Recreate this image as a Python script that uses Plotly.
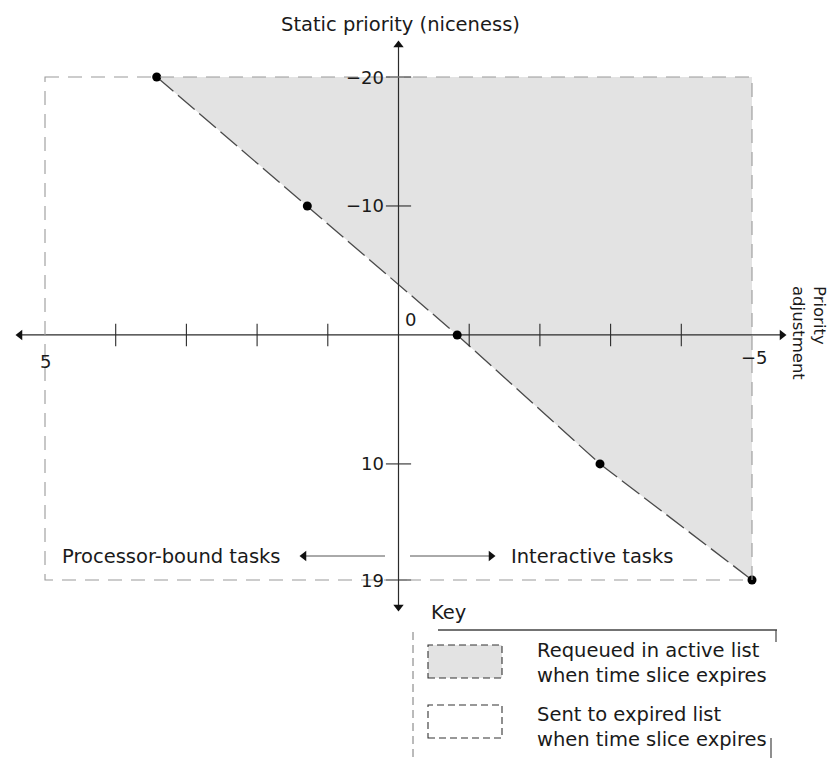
import plotly.graph_objects as go

# ---------------- data ----------------
static_priority = [-20, -10, 0, 10, 19]
priority_adjustment = [3.42, 1.29, -0.83, -2.85, -5.0]
x_extent = [5, -5]
y_extent = [-20, 19]
x_ticks = [4, 3, 2, 1, -1, -2, -3, -4]
x_end_labels = ["5", "−5"]
y_ticks = [-20, -10, 10, 19]
y_tick_labels = ["−20", "−10", "10", "19"]
origin_label = "0"
y_title = "Static priority (niceness)"
x_title = "Priority<br>adjustment"
left_task_label = "Processor-bound tasks"
right_task_label = "Interactive tasks"
key_title = "Key"
key_labels = ["Requeued in active list<br>when time slice expires",
              "Sent to expired list<br>when time slice expires"]

# ---------------- layout geometry ----------------
W, H = 829, 758
X5_PX, XM5_PX = 45, 752
YTOP_PX, YBOT_PX = 77, 580
ppx = (XM5_PX - X5_PX) / (x_extent[0] - x_extent[1])
ppy = (YBOT_PX - YTOP_PX) / (y_extent[1] - y_extent[0])
x_range = [x_extent[0] + X5_PX / ppx, x_extent[0] - (W - X5_PX) / ppx]
y_range = [y_extent[0] + (H - YTOP_PX) / ppy, y_extent[0] - YTOP_PX / ppy]


def dx(p):
    return x_extent[0] - (p - X5_PX) / ppx


def dy(p):
    return y_extent[0] + (p - YTOP_PX) / ppy


def px(x):
    return x / W


def py(y):
    return 1 - y / H


FONT = "DejaVu Sans"
TXT = "#1a1a1a"
AX = "#2b2b2b"
FS = 19.5
FS_TICK = 18

fig = go.Figure()

# shaded region (requeued in active list)
fig.add_trace(go.Scatter(
    x=priority_adjustment + [x_extent[1], priority_adjustment[0]],
    y=static_priority + [static_priority[0], static_priority[0]],
    fill="toself", fillcolor="#e3e3e3", mode="none", hoverinfo="skip"))

# dashed boundary rectangle
fig.add_shape(type="rect", x0=x_extent[0], x1=x_extent[1], y0=y_extent[0], y1=y_extent[1],
              line=dict(color="#9a9a9a", width=1.1, dash="14px,9px"), layer="above")

# diagonal threshold line
fig.add_trace(go.Scatter(x=priority_adjustment, y=static_priority, mode="lines",
                         line=dict(color="#4a4a4a", width=1.3, dash="22px,6px"), hoverinfo="skip"))

# axes lines
fig.add_trace(go.Scatter(x=[dx(20), dx(782)], y=[0, 0], mode="lines",
                         line=dict(color=AX, width=1.2), hoverinfo="skip"))
fig.add_trace(go.Scatter(x=[0, 0], y=[dy(45), dy(607)], mode="lines",
                         line=dict(color=AX, width=1.2), hoverinfo="skip"))
# arrowheads
fig.add_trace(go.Scatter(
    x=[dx(20), dx(782), 0, 0], y=[0, 0, dy(45), dy(607)], mode="markers",
    marker=dict(symbol=["triangle-left", "triangle-right", "triangle-up", "triangle-down"],
                size=9, color="#111"), hoverinfo="skip"))

# ticks
fig.add_trace(go.Scatter(x=x_ticks, y=[0] * len(x_ticks), mode="markers",
                         marker=dict(symbol="line-ns-open", size=16, color=AX,
                                     line=dict(color=AX, width=1.1)),
                         hoverinfo="skip"))
fig.add_trace(go.Scatter(x=[0] * len(y_ticks), y=y_ticks, mode="markers",
                         marker=dict(symbol="line-ew-open", size=18, color=AX,
                                     line=dict(color=AX, width=1.1)),
                         hoverinfo="skip"))

# data points
fig.add_trace(go.Scatter(x=priority_adjustment, y=static_priority, mode="markers",
                         marker=dict(size=9, color="#000"), hoverinfo="skip"))

# task arrows
task_y = dy(556)
fig.add_trace(go.Scatter(x=[dx(385), dx(304)], y=[task_y, task_y], mode="lines",
                         line=dict(color="#555", width=1), hoverinfo="skip"))
fig.add_trace(go.Scatter(x=[dx(410), dx(491)], y=[task_y, task_y], mode="lines",
                         line=dict(color="#555", width=1), hoverinfo="skip"))
fig.add_trace(go.Scatter(x=[dx(304), dx(491)], y=[task_y, task_y], mode="markers",
                         marker=dict(symbol=["triangle-left", "triangle-right"], size=9, color="#111"),
                         hoverinfo="skip"))

ann = []
f = dict(family=FONT, size=FS, color=TXT)
ft = dict(family=FONT, size=FS_TICK, color=TXT)
# y tick labels
for v, t in zip(y_ticks, y_tick_labels):
    ann.append(dict(x=0, y=v, text=t, showarrow=False, xanchor="right", yanchor="middle",
                    xshift=-13, font=ft))
# x end labels
ann.append(dict(x=x_extent[0], y=0, text=x_end_labels[0], showarrow=False, xanchor="center",
                yanchor="top", yshift=-14, font=ft))
ann.append(dict(x=x_extent[1], y=0, text=x_end_labels[1], showarrow=False, xanchor="center",
                yanchor="top", yshift=-10, xshift=2, font=ft))
ann.append(dict(x=0, y=0, text=origin_label, showarrow=False, xanchor="center", yanchor="bottom",
                xshift=12, yshift=3, font=ft))
# titles
ann.append(dict(xref="paper", yref="paper", x=px(400), y=py(25), text=y_title, showarrow=False,
                xanchor="center", yanchor="middle", font=f))
ann.append(dict(xref="paper", yref="paper", x=px(809), y=py(333), text=x_title, showarrow=False,
                textangle=90, align="left", xanchor="center", yanchor="middle",
                font=dict(family=FONT, size=16.5, color=TXT)))
# task labels
ann.append(dict(x=dx(283), y=task_y, text=left_task_label, showarrow=False, xanchor="right",
                yanchor="middle", font=f))
ann.append(dict(x=dx(509), y=task_y, text=right_task_label, showarrow=False, xanchor="left",
                yanchor="middle", font=f))
# key
ann.append(dict(xref="paper", yref="paper", x=px(429), y=py(612), text=key_title, showarrow=False,
                xanchor="left", yanchor="middle", font=f))
key_text_y = [663, 727]
for label, yy in zip(key_labels, key_text_y):
    ann.append(dict(xref="paper", yref="paper", x=px(535), y=py(yy), text=label, showarrow=False,
                    xanchor="left", yanchor="middle", align="left", font=f))

shapes = []
# key frame
shapes.append(dict(type="line", xref="paper", yref="paper", x0=px(438), x1=px(777), y0=py(630), y1=py(630),
                   line=dict(color="#444", width=1.3)))
shapes.append(dict(type="line", xref="paper", yref="paper", x0=px(776), x1=px(776), y0=py(630), y1=py(642),
                   line=dict(color="#444", width=1.2)))
shapes.append(dict(type="line", xref="paper", yref="paper", x0=px(771), x1=px(771), y0=py(738), y1=py(758),
                   line=dict(color="#444", width=1.2)))
shapes.append(dict(type="line", xref="paper", yref="paper", x0=px(413), x1=px(413), y0=py(632), y1=py(758),
                   line=dict(color="#777", width=1, dash="8px,5px")))
# key swatches
shapes.append(dict(type="rect", xref="paper", yref="paper", x0=px(428), x1=px(502), y0=py(678), y1=py(645),
                   fillcolor="#e3e3e3", line=dict(color="#333", width=1.1, dash="7px,4px")))
shapes.append(dict(type="rect", xref="paper", yref="paper", x0=px(428), x1=px(502), y0=py(738), y1=py(705),
                   fillcolor="#ffffff", line=dict(color="#333", width=1.1, dash="7px,4px")))

fig.update_layout(
    width=W, height=H, autosize=False,
    margin=dict(l=0, r=0, t=0, b=0),
    paper_bgcolor="white", plot_bgcolor="white",
    showlegend=False,
    xaxis=dict(range=x_range, visible=False, fixedrange=True),
    yaxis=dict(range=y_range, visible=False, fixedrange=True),
    annotations=ann, shapes=fig.layout.shapes + tuple(shapes),
)

fig.write_html("out.html", config={"displayModeBar": False},
               post_script="document.body.style.margin='0';document.body.style.overflow='hidden';")
